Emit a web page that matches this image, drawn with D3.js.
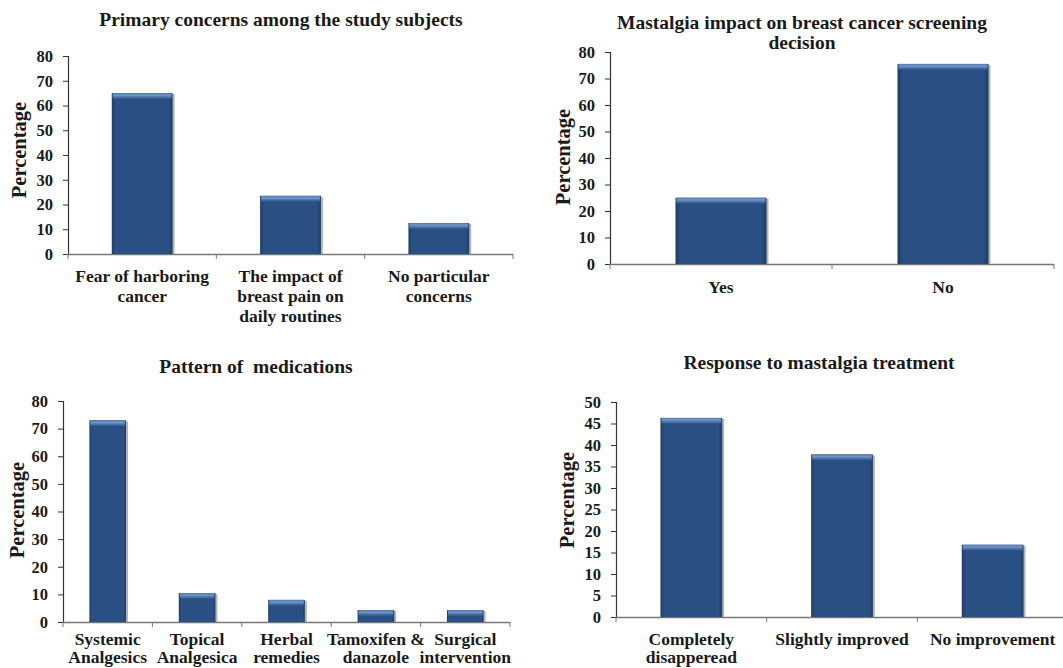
<!DOCTYPE html>
<meta charset="utf-8">
<style>
body { margin: 0; background: #fff; }
svg { display: block; }
text { font-family: "Liberation Serif", "Times New Roman", serif; font-weight: bold; fill: #1a1a1a; }
.tick-label { font-size: 16.5px; }
.cat-label { font-size: 17.5px; }
.title { font-size: 19.5px; white-space: pre; }
.ytitle { font-size: 20.5px; }
</style>
<svg width="1063" height="668"></svg>
<script src="https://d3js.org/d3.v7.min.js"></script>
<script>

// panel 1
var concernCats = [["Fear of harboring", "cancer"], ["The impact of", "breast pain on", "daily routines"], ["No particular", "concerns"]];
var concernVals = [65, 23.5, 12.5];
// panel 2
var screeningCats = [["Yes"], ["No"]];
var screeningVals = [25, 75.5];
// panel 3
var medCats = [["Systemic", "Analgesics"], ["Topical", "Analgesica"], ["Herbal", "remedies"], ["Tamoxifen &", "danazole"], ["Surgical", "intervention"]];
var medVals = [73, 10.5, 8, 4.3, 4.3];
// panel 4
var responseCats = [["Completely", "disapperead"], ["Slightly improved"], ["No improvement"]];
var responseVals = [46.3, 37.8, 16.8];

var svg = d3.select("svg");

var defs = svg.append("defs");
var sideGrad = defs.append("linearGradient").attr("id", "barSide").attr("x1", 0).attr("x2", 1).attr("y1", 0).attr("y2", 0);
sideGrad.append("stop").attr("offset", "0").attr("stop-color", "#1e3d66");
sideGrad.append("stop").attr("offset", "0.06").attr("stop-color", "#2a5083");
sideGrad.append("stop").attr("offset", "0.94").attr("stop-color", "#2a5083");
sideGrad.append("stop").attr("offset", "1").attr("stop-color", "#1e3d66");
var topGrad = defs.append("linearGradient").attr("id", "barTop").attr("x1", 0).attr("x2", 0).attr("y1", 0).attr("y2", 1);
topGrad.append("stop").attr("offset", "0").attr("stop-color", "#4f78ad");
topGrad.append("stop").attr("offset", "0.35").attr("stop-color", "#6f97cc");
topGrad.append("stop").attr("offset", "1").attr("stop-color", "#2a5083");

function panel(o) {
  var g = svg.append("g");
  var x = d3.scaleBand()
      .domain(d3.range(o.vals.length))
      .range([o.x0, o.x1])
      .paddingInner(0.59)
      .paddingOuter(0.295);
  var y = d3.scaleLinear()
      .domain([0, o.yMax])
      .range([o.yb, o.yt]);

  // title
  o.title.forEach(function(t, i) {
    g.append("text").attr("class", "title")
      .attr("x", o.tx).attr("y", o.ty + i * 20)
      .attr("text-anchor", "middle").text(t);
  });

  // y axis
  var ya = g.append("g")
      .attr("transform", "translate(" + o.x0 + ",0)")
      .call(d3.axisLeft(y).tickValues(d3.range(0, o.yMax + 1, o.step)).tickSize(5).tickPadding(10));
  ya.attr("font-size", null).attr("font-family", null);
  ya.select(".domain").attr("stroke", "#333").attr("stroke-width", 1.2);
  ya.selectAll(".tick line").attr("stroke", "#333");
  ya.selectAll(".tick text").attr("class", "tick-label").attr("fill", "#1a1a1a");

  g.append("text").attr("class", "ytitle")
      .attr("transform", "translate(" + o.ytx + "," + o.yty + ") rotate(-90)")
      .attr("text-anchor", "middle").text("Percentage");

  // x axis line + band ticks
  g.append("line").attr("x1", o.x0).attr("x2", o.x1).attr("y1", o.yb + 0.5).attr("y2", o.yb + 0.5)
      .attr("stroke", "#777").attr("stroke-width", 1.5);
  var bounds = d3.range(o.vals.length + 1).map(function(i) { return o.x0 + i * (o.x1 - o.x0) / o.vals.length; });
  g.selectAll(".xt").data(bounds).enter().append("line")
      .attr("x1", function(d) { return d; }).attr("x2", function(d) { return d; })
      .attr("y1", o.yb).attr("y2", o.yb + 5).attr("stroke", "#777");

  // bars
  var bars = g.selectAll(".bar").data(o.vals).enter().append("g");
  bars.append("rect")
      .attr("x", function(d, i) { return x(i) + 2; })
      .attr("y", function(d) { return y(d) + 1; })
      .attr("width", x.bandwidth())
      .attr("height", function(d) { return o.yb - y(d) - 1; })
      .attr("fill", "#b5b5b5");
  bars.append("rect")
      .attr("x", function(d, i) { return x(i); })
      .attr("y", function(d) { return y(d); })
      .attr("width", x.bandwidth())
      .attr("height", function(d) { return o.yb - y(d); })
      .attr("fill", "url(#barSide)");
  bars.append("rect")
      .attr("x", function(d, i) { return x(i) + 1; })
      .attr("y", function(d) { return y(d); })
      .attr("width", x.bandwidth() - 2)
      .attr("height", 6)
      .attr("fill", "url(#barTop)");

  // category labels
  bars.each(function(d, i) {
    var t = g.append("text").attr("class", "cat-label").attr("text-anchor", "middle");
    o.cats[i].forEach(function(line, j) {
      t.append("tspan").attr("x", x(i) + x.bandwidth() / 2).attr("y", o.ly + j * o.lh).text(line);
    });
  });
}

panel({vals: concernVals, cats: concernCats, title: ["Primary concerns among the study subjects"],
  tx: 281, ty: 26, x0: 68, x1: 513, yt: 56, yb: 254, yMax: 80, step: 10,
  ytx: 26, yty: 150, ly: 282, lh: 20});

panel({vals: screeningVals, cats: screeningCats, title: ["Mastalgia impact on breast cancer screening", "decision"],
  tx: 802, ty: 29, x0: 610, x1: 1054, yt: 52, yb: 264, yMax: 80, step: 10,
  ytx: 570, yty: 157, ly: 293, lh: 20});

panel({vals: medVals, cats: medCats, title: ["Pattern of  medications"],
  tx: 256, ty: 373, x0: 63, x1: 510, yt: 401, yb: 622, yMax: 80, step: 10,
  ytx: 24, yty: 510, ly: 645, lh: 18});

panel({vals: responseVals, cats: responseCats, title: ["Response to mastalgia treatment"],
  tx: 819, ty: 369, x0: 616, x1: 1068, yt: 402, yb: 617, yMax: 50, step: 5,
  ytx: 574, yty: 500, ly: 645, lh: 18});

</script>
